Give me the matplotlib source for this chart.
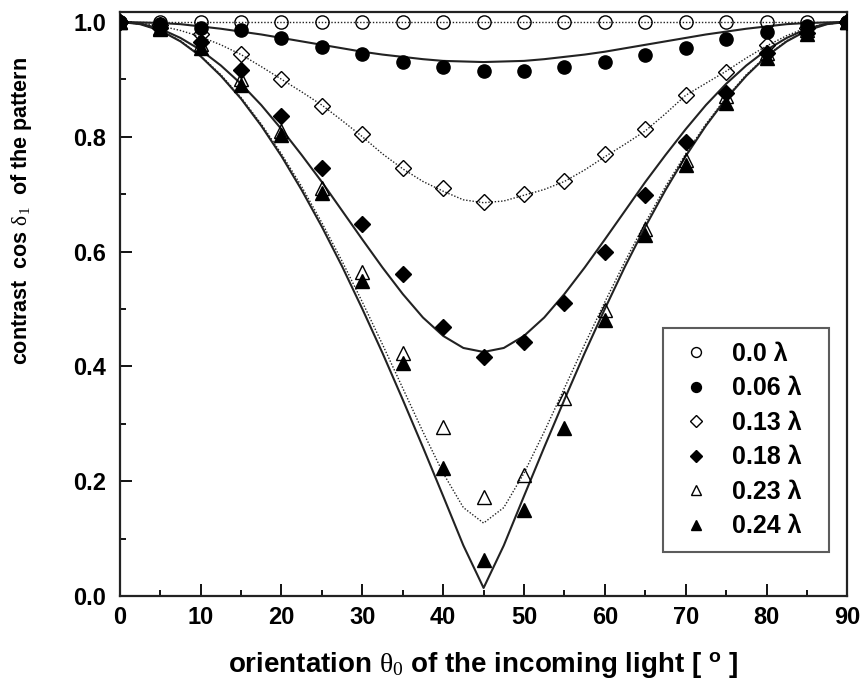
import matplotlib
matplotlib.use('Agg')
import matplotlib.pyplot as plt
from matplotlib.ticker import MultipleLocator

# Ângulos medidos (graus)
theta = [0, 5, 10, 15, 20, 25, 30, 35, 40, 45, 50, 55, 60, 65, 70, 75, 80, 85, 90]

# Pontos medidos para cada retardo
contrast_000 = [1.0, 1.0, 1.0, 1.0, 1.0, 1.0, 1.0, 1.0, 1.0, 1.0,
                1.0, 1.0, 1.0, 1.0, 1.0, 1.0, 1.0, 1.0, 1.0]
contrast_006 = [1.0, 0.997, 0.990, 0.985, 0.972, 0.957, 0.944, 0.930, 0.922, 0.915,
                0.915, 0.922, 0.930, 0.942, 0.955, 0.970, 0.983, 0.992, 1.0]
contrast_013 = [1.0, 0.995, 0.978, 0.944, 0.900, 0.854, 0.805, 0.746, 0.711, 0.686,
                0.700, 0.723, 0.770, 0.813, 0.873, 0.913, 0.960, 0.990, 1.0]
contrast_018 = [1.0, 0.990, 0.965, 0.916, 0.836, 0.746, 0.648, 0.561, 0.469, 0.416,
                0.443, 0.510, 0.599, 0.699, 0.791, 0.876, 0.945, 0.980, 1.0]
contrast_023 = [1.0, 0.990, 0.962, 0.900, 0.810, 0.710, 0.564, 0.423, 0.294, 0.172,
                0.211, 0.345, 0.498, 0.640, 0.760, 0.870, 0.945, 0.985, 1.0]
contrast_024 = [1.0, 0.988, 0.955, 0.890, 0.803, 0.702, 0.549, 0.406, 0.223, 0.063,
                0.150, 0.293, 0.481, 0.629, 0.751, 0.859, 0.937, 0.978, 1.0]

# Curvas teóricas
theta_fit = [0, 2.5, 5, 7.5, 10, 12.5, 15, 17.5, 20, 22.5, 25, 27.5, 30, 32.5, 35, 37.5, 40, 42.5, 45,
             47.5, 50, 52.5, 55, 57.5, 60, 62.5, 65, 67.5, 70, 72.5, 75, 77.5, 80, 82.5, 85, 87.5, 90]
fit_000 = [1.0] * 37
fit_006 = [1.000, 0.999, 0.998, 0.996, 0.992, 0.988, 0.983, 0.978, 0.972, 0.966, 0.960, 0.954, 0.948,
           0.943, 0.939, 0.935, 0.932, 0.931, 0.930, 0.931, 0.932, 0.935, 0.939, 0.943, 0.948, 0.954,
           0.960, 0.966, 0.972, 0.978, 0.983, 0.988, 0.992, 0.996, 0.998, 0.999, 1.000]
fit_013 = [1.000, 0.998, 0.993, 0.985, 0.974, 0.960, 0.943, 0.922, 0.900, 0.878, 0.855, 0.828, 0.800,
           0.770, 0.744, 0.722, 0.705, 0.690, 0.685, 0.688, 0.698, 0.708, 0.722, 0.742, 0.765, 0.787,
           0.810, 0.840, 0.872, 0.893, 0.914, 0.937, 0.958, 0.976, 0.990, 0.997, 1.000]
fit_018 = [1.000, 0.997, 0.988, 0.972, 0.951, 0.924, 0.892, 0.855, 0.813, 0.768, 0.721, 0.671, 0.621,
           0.572, 0.526, 0.485, 0.453, 0.432, 0.425, 0.432, 0.453, 0.485, 0.526, 0.572, 0.621, 0.671,
           0.721, 0.768, 0.813, 0.855, 0.892, 0.924, 0.951, 0.972, 0.988, 0.997, 1.000]
fit_023 = [1.000, 0.996, 0.985, 0.967, 0.941, 0.908, 0.868, 0.822, 0.770, 0.713, 0.650, 0.583, 0.512,
           0.438, 0.362, 0.286, 0.214, 0.154, 0.127, 0.154, 0.214, 0.286, 0.362, 0.438, 0.512, 0.583,
           0.650, 0.713, 0.770, 0.822, 0.868, 0.908, 0.941, 0.967, 0.985, 0.996, 1.000]
fit_024 = [1.000, 0.996, 0.985, 0.966, 0.940, 0.906, 0.866, 0.819, 0.766, 0.707, 0.643, 0.574, 0.500,
           0.423, 0.342, 0.259, 0.174, 0.088, 0.014, 0.088, 0.174, 0.259, 0.342, 0.423, 0.500, 0.574,
           0.643, 0.707, 0.766, 0.819, 0.866, 0.906, 0.940, 0.966, 0.985, 0.996, 1.000]

labels = ['0.0 λ', '0.06 λ', '0.13 λ', '0.18 λ', '0.23 λ', '0.24 λ']

plt.rcParams['font.family'] = ['Liberation Sans', 'DejaVu Sans']
plt.rcParams['font.weight'] = 'bold'
plt.rcParams['mathtext.fontset'] = 'custom'
plt.rcParams['mathtext.rm'] = 'Liberation Serif:weight=normal'
plt.rcParams['mathtext.it'] = 'Liberation Serif:italic:weight=normal'
plt.rcParams['mathtext.bf'] = 'Liberation Sans:bold'

fig = plt.figure(figsize=(8.62, 6.91), dpi=100)
ax = fig.add_axes([0.139, 0.1375, 0.844, 0.845])

# Curvas: pontilhadas e contínuas alternadas
dotted = (0, (1, 1.3))
fits = [fit_000, fit_006, fit_013, fit_018, fit_023, fit_024]
styles = [dotted, '-', dotted, '-', dotted, '-']
widths = [1.0, 1.5, 1.0, 1.5, 1.0, 1.5]
for fit, ls, lw in zip(fits, styles, widths):
    ax.plot(theta_fit, fit, color='#222222', linestyle=ls, linewidth=lw, zorder=2)

# Pontos medidos
points = [contrast_000, contrast_006, contrast_013, contrast_018, contrast_023, contrast_024]
markers = ['o', 'o', 'D', 'D', '^', '^']
faces = ['none', 'black', 'none', 'black', 'none', 'black']
sizes = [9.5, 9.5, 8.5, 8.5, 10, 10]
for vals, m, fc, ms, lab in zip(points, markers, faces, sizes, labels):
    # espaços no fim só para alargar a caixa da legenda como no original
    ax.plot(theta, vals, linestyle='none', marker=m, markersize=ms, markerfacecolor=fc,
            markeredgecolor='black', markeredgewidth=1.0, zorder=3, label=lab + '  ')

ax.set_xlim(0, 90)
ax.set_ylim(0, 1.017)
ax.xaxis.set_major_locator(MultipleLocator(10))
ax.xaxis.set_minor_locator(MultipleLocator(5))
ax.yaxis.set_major_locator(MultipleLocator(0.2))
ax.yaxis.set_minor_locator(MultipleLocator(0.1))
ax.tick_params(axis='both', which='major', direction='in', length=8.5, width=1.3, labelsize=17)
ax.tick_params(axis='both', which='minor', direction='in', length=4.5, width=1.3)
ax.tick_params(axis='x', pad=7)
ax.tick_params(axis='y', pad=10)
for spine in ax.spines.values():
    spine.set_linewidth(1.6)
    spine.set_color('#222222')

ax.set_ylabel(r'contrast  cos $\mathrm{\delta}_{1}$  of the pattern', fontsize=15.5, fontweight='bold')
ax.yaxis.set_label_coords(-0.118, 0.66)
ax.set_xlabel(r'orientation $\mathrm{\theta}_{0}$ of the incoming light [ $^{\mathbf{o}}$ ]',
              fontsize=20, fontweight='bold')
ax.xaxis.set_label_coords(0.5, -0.0925)

leg = ax.legend(loc='lower left', bbox_to_anchor=(0.747, 0.075), frameon=True, fancybox=False,
                fontsize=18, markerscale=0.75, handletextpad=0.7, labelspacing=0.42,
                borderpad=0.55, handlelength=1.5, borderaxespad=0)
leg.get_frame().set_edgecolor('#333333')
leg.get_frame().set_linewidth(1.5)

fig.savefig('out.png', dpi=100)
